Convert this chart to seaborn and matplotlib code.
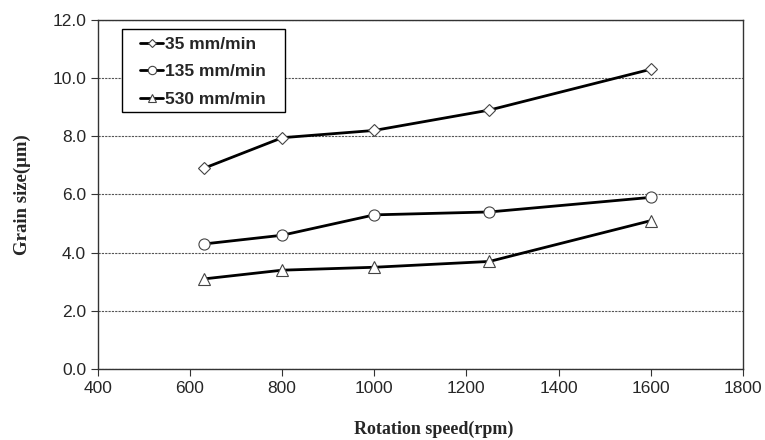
import matplotlib
matplotlib.use("Agg")
import matplotlib.pyplot as plt
from matplotlib.patches import Rectangle
import seaborn as sns
import pandas as pd

# rotation speed (rpm) and grain size (um) for each traverse speed
speed = [630, 800, 1000, 1250, 1600]
g35 = [6.9, 7.95, 8.2, 8.9, 10.3]
g135 = [4.3, 4.6, 5.3, 5.4, 5.9]
g530 = [3.1, 3.4, 3.5, 3.7, 5.1]
labels = ["35 mm/min", "135 mm/min", "530 mm/min"]
markers = ["D", "o", "^"]
msizes = [6, 8, 8]

sns.set_style("white")
plt.rcParams["font.family"] = ["Liberation Sans", "DejaVu Sans"]

df = pd.DataFrame({
    "speed": speed * 3,
    "size": g35 + g135 + g530,
    "feed": [labels[0]] * 5 + [labels[1]] * 5 + [labels[2]] * 5,
})

fig = plt.figure(figsize=(7.65, 4.4), dpi=100)
ax = fig.add_axes([0.128, 0.161, 0.843, 0.794])

for lab, m, ms in zip(labels, markers, msizes):
    sub = df[df["feed"] == lab]
    sns.lineplot(data=sub, x="speed", y="size", ax=ax, color="black", lw=2,
                 marker=m, markersize=ms, markerfacecolor="white",
                 markeredgecolor="#444444", markeredgewidth=0.8, label=lab)

ax.set_xlim(400, 1800)
ax.set_ylim(0, 12)
ax.set_xticks(range(400, 1801, 200))
ax.set_yticks([0, 2, 4, 6, 8, 10, 12])
ax.set_yticklabels([f"{v:.1f}" for v in ax.get_yticks()])
ax.yaxis.grid(True, color="#555555", linestyle=(0, (2, 1)), lw=0.8)
ax.tick_params(axis="both", direction="out", length=5, width=0.8, labelsize=12.5,
               color="#333333", bottom=True, left=True)
for s in ax.spines.values():
    s.set_color("#333333")
    s.set_linewidth(1.0)

ax.set_xlabel("Rotation speed(rpm)", fontsize=13, fontweight="bold",
              family="Liberation Serif")
ax.xaxis.set_label_coords(0.521, -0.147)
ax.set_ylabel("Grain size(\u03bcm)", fontsize=13.5, fontweight="bold",
              family="Liberation Serif", labelpad=15)

# legend frame drawn separately so horizontal padding can be wider than vertical
ax.add_patch(Rectangle((0.037, 0.736), 0.253, 0.238, transform=ax.transAxes,
                       facecolor="white", edgecolor="black", lw=1.0, zorder=4))
leg = ax.legend(loc="upper left", bbox_to_anchor=(0.066, 0.952), frameon=False,
                prop={"weight": "bold", "size": 12.5}, handlelength=1.3,
                handletextpad=0.1, borderpad=0, labelspacing=0.72,
                markerscale=0.75, borderaxespad=0)
leg.set_zorder(5)

fig.savefig("out.png", dpi=100)
